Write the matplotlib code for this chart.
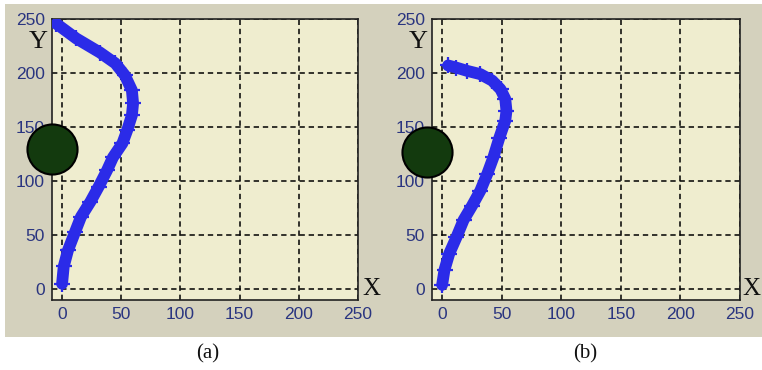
import matplotlib
matplotlib.use("Agg")
import matplotlib.pyplot as plt
from matplotlib.patches import Rectangle

# ---- data ----
ticks = [0, 50, 100, 150, 200, 250]
path_a_x = [0, 1.4, 5, 11, 16, 24, 31, 38, 43, 51, 55, 59, 60, 59, 53, 45, 32, 12, -4.8]
path_a_y = [5, 21, 36, 53, 67, 81, 95, 110, 122, 135, 147, 161, 172, 184, 198, 209, 219, 232, 245.6]
path_b_x = [0, 2, 6, 12, 18, 25, 32, 38, 43, 48, 53, 54, 53, 49, 42, 32, 21, 12, 5]
path_b_y = [4, 18, 33, 48, 64, 77, 91, 107, 122, 140, 156, 165, 176, 185, 193, 199, 202, 205, 207]
obstacle_a = (-8.5, 130)
obstacle_b = (-12.6, 127)
captions = ["(a)", "(b)"]

W, H = 762, 370
fig = plt.figure(figsize=(W / 100, H / 100), dpi=100)
fig.patch.set_facecolor("white")

# grey panel background
bg = Rectangle((5 / W, 1 - 337 / H), (W - 5) / W, (337 - 4) / H,
               transform=fig.transFigure, facecolor="#D4D1BD",
               edgecolor="none", zorder=-10)
fig.patches.append(bg)

tick_color = "#2a3580"
trail_color = "#2B2BE8"

axes_specs = [
    (52, 358, path_a_x, path_a_y, obstacle_a, 208, 371),
    (432, 740, path_b_x, path_b_y, obstacle_b, 585, 751),
]

for i, (l, r, px, py, obs, capx, xlx) in enumerate(axes_specs):
    ax = fig.add_axes([l / W, 1 - 300 / H, (r - l) / W, 281 / H])
    ax.set_zorder(1)
    ax.set_facecolor("#EFEDCF")
    ax.set_xlim(-8.5, 250)
    ax.set_ylim(-10, 250)
    ax.set_xticks(ticks)
    ax.set_yticks(ticks)
    ax.set_axisbelow(True)
    ax.grid(True, color="black", linestyle=(0, (3.5, 2.5)), linewidth=1.1)
    ax.tick_params(direction="in", length=0, pad=5, labelsize=12.5,
                   labelcolor=tick_color)
    for lab in ax.get_xticklabels() + ax.get_yticklabels():
        lab.set_family("Liberation Sans")
    for s in ax.spines.values():
        s.set_color("#222222")
        s.set_linewidth(1.2)
    ax.plot(px, py, color=trail_color, linewidth=8.5, solid_capstyle="round",
            solid_joinstyle="round",
            marker="+", markersize=11, markeredgewidth=1.6, zorder=3)
    ax.scatter([obs[0]], [obs[1]], s=1300, facecolor="#133A0E",
               edgecolor="black", linewidth=1.5, zorder=5, clip_on=False)
    # axis letters
    fig.text((l - 14) / W, 1 - 42 / H, "Y", family="Liberation Serif",
             fontsize=19, ha="center", va="center", color="#111111", zorder=5)
    fig.text(xlx / W, 1 - 289 / H, "X", family="Liberation Serif",
             fontsize=18, ha="center", va="center", color="#111111", zorder=5)
    fig.text(capx / W, 1 - 354 / H, captions[i], family="Liberation Serif",
             fontsize=15, ha="center", va="center", color="#111111")

fig.savefig("out.png", dpi=100)
